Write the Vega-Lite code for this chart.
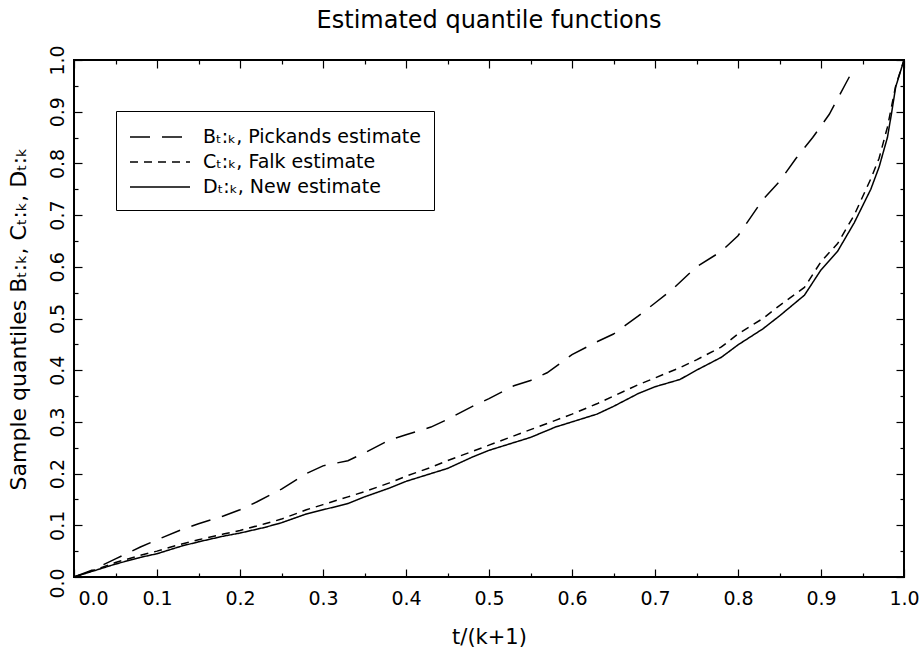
{
  "$schema": "https://vega.github.io/schema/vega-lite/v6.json",
  "autosize": "none",
  "width": 830,
  "height": 517,
  "padding": {"left": 74, "top": 60, "right": 18, "bottom": 74},
  "background": "white",
  "title": {"text": "Estimated quantile functions", "font": "DejaVu Sans", "fontSize": 24, "fontWeight": "normal", "color": "black", "anchor": "middle", "offset": 12},
  "config": {
    "view": {"stroke": "black", "strokeWidth": 2},
    "axis": {"domain": false, "grid": false, "tickColor": "black", "tickWidth": 1.2, "labelColor": "black", "titleColor": "black", "labelFont": "DejaVu Sans", "titleFont": "DejaVu Sans", "labelFontSize": 19, "titleFontSize": 21, "titleFontWeight": "normal", "labelFlush": false}
  },
  "data": {"values": [
    {"t": 0.0, "q": 0.0, "series": "Bₜ:ₖ, Pickands estimate"},
    {"t": 0.02, "q": 0.012, "series": "Bₜ:ₖ, Pickands estimate"},
    {"t": 0.05, "q": 0.035, "series": "Bₜ:ₖ, Pickands estimate"},
    {"t": 0.08, "q": 0.058, "series": "Bₜ:ₖ, Pickands estimate"},
    {"t": 0.1, "q": 0.072, "series": "Bₜ:ₖ, Pickands estimate"},
    {"t": 0.13, "q": 0.092, "series": "Bₜ:ₖ, Pickands estimate"},
    {"t": 0.15, "q": 0.103, "series": "Bₜ:ₖ, Pickands estimate"},
    {"t": 0.18, "q": 0.118, "series": "Bₜ:ₖ, Pickands estimate"},
    {"t": 0.2, "q": 0.13, "series": "Bₜ:ₖ, Pickands estimate"},
    {"t": 0.22, "q": 0.145, "series": "Bₜ:ₖ, Pickands estimate"},
    {"t": 0.25, "q": 0.17, "series": "Bₜ:ₖ, Pickands estimate"},
    {"t": 0.28, "q": 0.2, "series": "Bₜ:ₖ, Pickands estimate"},
    {"t": 0.3, "q": 0.215, "series": "Bₜ:ₖ, Pickands estimate"},
    {"t": 0.33, "q": 0.225, "series": "Bₜ:ₖ, Pickands estimate"},
    {"t": 0.35, "q": 0.24, "series": "Bₜ:ₖ, Pickands estimate"},
    {"t": 0.38, "q": 0.265, "series": "Bₜ:ₖ, Pickands estimate"},
    {"t": 0.4, "q": 0.275, "series": "Bₜ:ₖ, Pickands estimate"},
    {"t": 0.43, "q": 0.29, "series": "Bₜ:ₖ, Pickands estimate"},
    {"t": 0.45, "q": 0.305, "series": "Bₜ:ₖ, Pickands estimate"},
    {"t": 0.48, "q": 0.33, "series": "Bₜ:ₖ, Pickands estimate"},
    {"t": 0.5, "q": 0.345, "series": "Bₜ:ₖ, Pickands estimate"},
    {"t": 0.53, "q": 0.37, "series": "Bₜ:ₖ, Pickands estimate"},
    {"t": 0.55, "q": 0.38, "series": "Bₜ:ₖ, Pickands estimate"},
    {"t": 0.57, "q": 0.395, "series": "Bₜ:ₖ, Pickands estimate"},
    {"t": 0.6, "q": 0.43, "series": "Bₜ:ₖ, Pickands estimate"},
    {"t": 0.63, "q": 0.455, "series": "Bₜ:ₖ, Pickands estimate"},
    {"t": 0.65, "q": 0.47, "series": "Bₜ:ₖ, Pickands estimate"},
    {"t": 0.68, "q": 0.505, "series": "Bₜ:ₖ, Pickands estimate"},
    {"t": 0.7, "q": 0.53, "series": "Bₜ:ₖ, Pickands estimate"},
    {"t": 0.72, "q": 0.555, "series": "Bₜ:ₖ, Pickands estimate"},
    {"t": 0.75, "q": 0.6, "series": "Bₜ:ₖ, Pickands estimate"},
    {"t": 0.78, "q": 0.63, "series": "Bₜ:ₖ, Pickands estimate"},
    {"t": 0.8, "q": 0.66, "series": "Bₜ:ₖ, Pickands estimate"},
    {"t": 0.83, "q": 0.73, "series": "Bₜ:ₖ, Pickands estimate"},
    {"t": 0.85, "q": 0.765, "series": "Bₜ:ₖ, Pickands estimate"},
    {"t": 0.87, "q": 0.81, "series": "Bₜ:ₖ, Pickands estimate"},
    {"t": 0.89, "q": 0.85, "series": "Bₜ:ₖ, Pickands estimate"},
    {"t": 0.91, "q": 0.895, "series": "Bₜ:ₖ, Pickands estimate"},
    {"t": 0.93, "q": 0.955, "series": "Bₜ:ₖ, Pickands estimate"},
    {"t": 0.935, "q": 0.97, "series": "Bₜ:ₖ, Pickands estimate"},
    {"t": 0.0, "q": 0.0, "series": "Cₜ:ₖ, Falk estimate"},
    {"t": 0.02, "q": 0.011, "series": "Cₜ:ₖ, Falk estimate"},
    {"t": 0.05, "q": 0.028, "series": "Cₜ:ₖ, Falk estimate"},
    {"t": 0.08, "q": 0.042, "series": "Cₜ:ₖ, Falk estimate"},
    {"t": 0.1, "q": 0.05, "series": "Cₜ:ₖ, Falk estimate"},
    {"t": 0.13, "q": 0.064, "series": "Cₜ:ₖ, Falk estimate"},
    {"t": 0.15, "q": 0.072, "series": "Cₜ:ₖ, Falk estimate"},
    {"t": 0.18, "q": 0.083, "series": "Cₜ:ₖ, Falk estimate"},
    {"t": 0.2, "q": 0.09, "series": "Cₜ:ₖ, Falk estimate"},
    {"t": 0.23, "q": 0.103, "series": "Cₜ:ₖ, Falk estimate"},
    {"t": 0.25, "q": 0.112, "series": "Cₜ:ₖ, Falk estimate"},
    {"t": 0.28, "q": 0.13, "series": "Cₜ:ₖ, Falk estimate"},
    {"t": 0.3, "q": 0.14, "series": "Cₜ:ₖ, Falk estimate"},
    {"t": 0.33, "q": 0.155, "series": "Cₜ:ₖ, Falk estimate"},
    {"t": 0.35, "q": 0.165, "series": "Cₜ:ₖ, Falk estimate"},
    {"t": 0.38, "q": 0.182, "series": "Cₜ:ₖ, Falk estimate"},
    {"t": 0.4, "q": 0.195, "series": "Cₜ:ₖ, Falk estimate"},
    {"t": 0.43, "q": 0.212, "series": "Cₜ:ₖ, Falk estimate"},
    {"t": 0.45, "q": 0.225, "series": "Cₜ:ₖ, Falk estimate"},
    {"t": 0.48, "q": 0.243, "series": "Cₜ:ₖ, Falk estimate"},
    {"t": 0.5, "q": 0.255, "series": "Cₜ:ₖ, Falk estimate"},
    {"t": 0.53, "q": 0.273, "series": "Cₜ:ₖ, Falk estimate"},
    {"t": 0.55, "q": 0.285, "series": "Cₜ:ₖ, Falk estimate"},
    {"t": 0.58, "q": 0.303, "series": "Cₜ:ₖ, Falk estimate"},
    {"t": 0.6, "q": 0.315, "series": "Cₜ:ₖ, Falk estimate"},
    {"t": 0.63, "q": 0.335, "series": "Cₜ:ₖ, Falk estimate"},
    {"t": 0.65, "q": 0.35, "series": "Cₜ:ₖ, Falk estimate"},
    {"t": 0.68, "q": 0.372, "series": "Cₜ:ₖ, Falk estimate"},
    {"t": 0.7, "q": 0.385, "series": "Cₜ:ₖ, Falk estimate"},
    {"t": 0.73, "q": 0.405, "series": "Cₜ:ₖ, Falk estimate"},
    {"t": 0.75, "q": 0.42, "series": "Cₜ:ₖ, Falk estimate"},
    {"t": 0.78, "q": 0.445, "series": "Cₜ:ₖ, Falk estimate"},
    {"t": 0.8, "q": 0.47, "series": "Cₜ:ₖ, Falk estimate"},
    {"t": 0.83, "q": 0.5, "series": "Cₜ:ₖ, Falk estimate"},
    {"t": 0.85, "q": 0.525, "series": "Cₜ:ₖ, Falk estimate"},
    {"t": 0.88, "q": 0.56, "series": "Cₜ:ₖ, Falk estimate"},
    {"t": 0.9, "q": 0.61, "series": "Cₜ:ₖ, Falk estimate"},
    {"t": 0.92, "q": 0.645, "series": "Cₜ:ₖ, Falk estimate"},
    {"t": 0.94, "q": 0.7, "series": "Cₜ:ₖ, Falk estimate"},
    {"t": 0.96, "q": 0.77, "series": "Cₜ:ₖ, Falk estimate"},
    {"t": 0.97, "q": 0.81, "series": "Cₜ:ₖ, Falk estimate"},
    {"t": 0.98, "q": 0.87, "series": "Cₜ:ₖ, Falk estimate"},
    {"t": 0.99, "q": 0.95, "series": "Cₜ:ₖ, Falk estimate"},
    {"t": 1.0, "q": 1.0, "series": "Cₜ:ₖ, Falk estimate"},
    {"t": 0.0, "q": 0.0, "series": "Dₜ:ₖ, New estimate"},
    {"t": 0.02, "q": 0.01, "series": "Dₜ:ₖ, New estimate"},
    {"t": 0.05, "q": 0.025, "series": "Dₜ:ₖ, New estimate"},
    {"t": 0.08, "q": 0.038, "series": "Dₜ:ₖ, New estimate"},
    {"t": 0.1, "q": 0.045, "series": "Dₜ:ₖ, New estimate"},
    {"t": 0.13, "q": 0.06, "series": "Dₜ:ₖ, New estimate"},
    {"t": 0.15, "q": 0.068, "series": "Dₜ:ₖ, New estimate"},
    {"t": 0.18, "q": 0.079, "series": "Dₜ:ₖ, New estimate"},
    {"t": 0.2, "q": 0.085, "series": "Dₜ:ₖ, New estimate"},
    {"t": 0.23, "q": 0.096, "series": "Dₜ:ₖ, New estimate"},
    {"t": 0.25, "q": 0.105, "series": "Dₜ:ₖ, New estimate"},
    {"t": 0.28, "q": 0.122, "series": "Dₜ:ₖ, New estimate"},
    {"t": 0.3, "q": 0.13, "series": "Dₜ:ₖ, New estimate"},
    {"t": 0.33, "q": 0.142, "series": "Dₜ:ₖ, New estimate"},
    {"t": 0.35, "q": 0.155, "series": "Dₜ:ₖ, New estimate"},
    {"t": 0.38, "q": 0.172, "series": "Dₜ:ₖ, New estimate"},
    {"t": 0.4, "q": 0.185, "series": "Dₜ:ₖ, New estimate"},
    {"t": 0.43, "q": 0.2, "series": "Dₜ:ₖ, New estimate"},
    {"t": 0.45, "q": 0.21, "series": "Dₜ:ₖ, New estimate"},
    {"t": 0.48, "q": 0.232, "series": "Dₜ:ₖ, New estimate"},
    {"t": 0.5, "q": 0.245, "series": "Dₜ:ₖ, New estimate"},
    {"t": 0.53, "q": 0.26, "series": "Dₜ:ₖ, New estimate"},
    {"t": 0.55, "q": 0.27, "series": "Dₜ:ₖ, New estimate"},
    {"t": 0.58, "q": 0.29, "series": "Dₜ:ₖ, New estimate"},
    {"t": 0.6, "q": 0.3, "series": "Dₜ:ₖ, New estimate"},
    {"t": 0.63, "q": 0.315, "series": "Dₜ:ₖ, New estimate"},
    {"t": 0.65, "q": 0.33, "series": "Dₜ:ₖ, New estimate"},
    {"t": 0.68, "q": 0.355, "series": "Dₜ:ₖ, New estimate"},
    {"t": 0.7, "q": 0.368, "series": "Dₜ:ₖ, New estimate"},
    {"t": 0.73, "q": 0.382, "series": "Dₜ:ₖ, New estimate"},
    {"t": 0.75, "q": 0.4, "series": "Dₜ:ₖ, New estimate"},
    {"t": 0.78, "q": 0.425, "series": "Dₜ:ₖ, New estimate"},
    {"t": 0.8, "q": 0.449, "series": "Dₜ:ₖ, New estimate"},
    {"t": 0.83, "q": 0.48, "series": "Dₜ:ₖ, New estimate"},
    {"t": 0.85, "q": 0.505, "series": "Dₜ:ₖ, New estimate"},
    {"t": 0.88, "q": 0.545, "series": "Dₜ:ₖ, New estimate"},
    {"t": 0.9, "q": 0.594, "series": "Dₜ:ₖ, New estimate"},
    {"t": 0.92, "q": 0.63, "series": "Dₜ:ₖ, New estimate"},
    {"t": 0.94, "q": 0.685, "series": "Dₜ:ₖ, New estimate"},
    {"t": 0.96, "q": 0.75, "series": "Dₜ:ₖ, New estimate"},
    {"t": 0.97, "q": 0.793, "series": "Dₜ:ₖ, New estimate"},
    {"t": 0.98, "q": 0.85, "series": "Dₜ:ₖ, New estimate"},
    {"t": 0.985, "q": 0.897, "series": "Dₜ:ₖ, New estimate"},
    {"t": 0.99, "q": 0.948, "series": "Dₜ:ₖ, New estimate"},
    {"t": 1.0, "q": 1.0, "series": "Dₜ:ₖ, New estimate"}
  ]},
  "layer": [
    {
      "mark": {"type": "line", "color": "black", "strokeWidth": 1.5},
      "encoding": {
        "x": {"field": "t", "type": "quantitative", "scale": {"domain": [0, 1], "nice": false, "zero": false},
          "axis": {"orient": "bottom", "title": "t/(k+1)", "values": [0,0.05,0.1,0.15,0.2,0.25,0.3,0.35,0.4,0.45,0.5,0.55,0.6,0.65,0.7,0.75,0.8,0.85,0.9,0.95,1],
            "labelExpr": "abs(datum.value*10 - round(datum.value*10)) < 0.001 ? format(datum.value, '.1f') : ''",
            "tickSize": {"condition": {"test": "abs(datum.value*10 - round(datum.value*10)) < 0.001", "value": -8}, "value": -4},
            "labelPadding": 20, "titlePadding": 18,
            "labelOffset": {"condition": {"test": "datum.value === 0", "value": 19}, "value": 0}}},
        "y": {"field": "q", "type": "quantitative", "scale": {"domain": [0, 1], "nice": false, "zero": false},
          "axis": {"orient": "left", "title": "Sample quantiles Bₜ:ₖ, Cₜ:ₖ, Dₜ:ₖ", "titleFontSize": 22, "values": [0,0.05,0.1,0.15,0.2,0.25,0.3,0.35,0.4,0.45,0.5,0.55,0.6,0.65,0.7,0.75,0.8,0.85,0.9,0.95,1],
            "labelExpr": "abs(datum.value*10 - round(datum.value*10)) < 0.001 ? format(datum.value, '.1f') : ''",
            "tickSize": {"condition": {"test": "abs(datum.value*10 - round(datum.value*10)) < 0.001", "value": -8}, "value": -4},
            "labelOffset": {"condition": {"test": "datum.value === 0", "value": 6}, "value": 0},
            "labelAngle": 270, "labelAlign": "center", "labelBaseline": "bottom", "labelPadding": 15, "titlePadding": 18}},
        "strokeDash": {"field": "series", "type": "nominal",
          "scale": {"domain": ["Bₜ:ₖ, Pickands estimate", "Cₜ:ₖ, Falk estimate", "Dₜ:ₖ, New estimate"], "range": [[20, 12], [8, 6], [1, 0]]},
          "legend": {"orient": "none", "legendX": 42, "legendY": 51, "title": null, "strokeColor": "black", "padding": 13,
            "symbolType": "M-1,0H4", "symbolSize": 576, "symbolStrokeWidth": 1.5, "symbolStrokeColor": "black",
            "labelFont": "DejaVu Sans", "labelFontSize": 19, "labelColor": "black", "labelOffset": 48, "rowPadding": 2, "labelLimit": 400}}
      }
    },
    {
      "mark": {"type": "line", "opacity": 0},
      "encoding": {
        "x": {"field": "t", "type": "quantitative",
          "axis": {"orient": "top", "title": null, "labels": false, "values": [0,0.05,0.1,0.15,0.2,0.25,0.3,0.35,0.4,0.45,0.5,0.55,0.6,0.65,0.7,0.75,0.8,0.85,0.9,0.95,1],
            "tickSize": {"condition": {"test": "abs(datum.value*10 - round(datum.value*10)) < 0.001", "value": -8}, "value": -4}}},
        "y": {"field": "q", "type": "quantitative",
          "axis": {"orient": "right", "title": null, "labels": false, "values": [0,0.05,0.1,0.15,0.2,0.25,0.3,0.35,0.4,0.45,0.5,0.55,0.6,0.65,0.7,0.75,0.8,0.85,0.9,0.95,1],
            "tickSize": {"condition": {"test": "abs(datum.value*10 - round(datum.value*10)) < 0.001", "value": -8}, "value": -4}}}
      }
    }
  ],
  "resolve": {"axis": {"x": "independent", "y": "independent"}}
}
